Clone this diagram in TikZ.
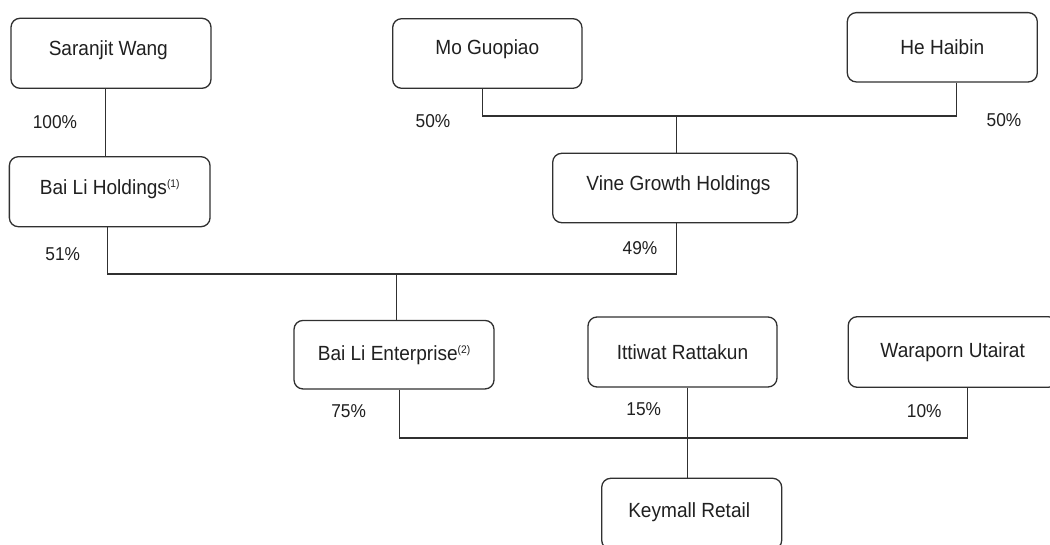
\documentclass[tikz,border=0pt]{standalone}
\usepackage{fontspec}
\setmainfont{Liberation Sans}[FakeStretch=0.93]
\definecolor{ink}{HTML}{202020}
\definecolor{edge}{HTML}{303030}
\begin{document}
\begin{tikzpicture}[x=1pt,y=-1pt,
  entity/.style={draw=edge, line width=1.3pt, rounded corners=9pt, fill=white,
    inner sep=0pt, text height=14.7pt, text depth=0pt, text=ink,
    font=\fontsize{20.5}{24}\selectfont},
  share/.style={inner sep=0pt, text height=13.3pt, text depth=0pt, text=ink,
    font=\fontsize{18.6}{22}\selectfont},
  link/.style={draw=edge, line width=1.3pt}]
\useasboundingbox (0,0) rectangle (1050,545);
\clip (0,0) rectangle (1050,545);
\fill[white] (0,0) rectangle (1050,545);

\newcommand{\fnref}[1]{\raisebox{7pt}{\fontsize{11}{12}\selectfont(#1)}}

% owners and entities
\node[entity, minimum width=200pt, minimum height=70pt] (saranjit) at (111,53.3)
  {\raisebox{5.3pt}{Saranjit Wang}\hspace*{5.4pt}};
\node[entity, minimum width=200.7pt, minimum height=70pt] (bailih) at (109.7,191.7)
  {\raisebox{5pt}{Bai Li Holdings\fnref{1}}};
\node[entity, minimum width=189.3pt, minimum height=69.6pt] (mo) at (487.3,53.5)
  {\raisebox{6.8pt}{Mo Guopiao}};
\node[entity, minimum width=190pt, minimum height=69.3pt] (he) at (942.3,47.3)
  {He Haibin};
\node[entity, minimum width=244.6pt, minimum height=69.4pt] (vine) at (675,188)
  {\hspace*{7pt}\raisebox{5.3pt}{Vine Growth Holdings}};
\node[entity, minimum width=200pt, minimum height=68.5pt] (ent) at (394,354.7)
  {\raisebox{1.4pt}{Bai Li Enterprise\fnref{2}}};
\node[entity, minimum width=189pt, minimum height=70pt] (itt) at (682.5,352)
  {Ittiwat Rattakun};
\node[entity, minimum width=209pt, minimum height=70.6pt] (war) at (952.7,352)
  {\raisebox{2pt}{Waraporn Utairat}};
\node[entity, minimum width=180pt, minimum height=71pt] (key) at (691.7,513.8)
  {\raisebox{3.8pt}{Keymall Retail}\hspace*{5pt}};

% junction points of the ownership buses
\coordinate (busA) at (676.7,116);
\coordinate (busB) at (396.4,274);
\coordinate (busC) at (687.7,438);

% connectors
\draw[link] ([xshift=-5.7pt]saranjit.south) -- ([xshift=-5.7pt]saranjit.south |- bailih.north);
\draw[link] ([xshift=-4.6pt]mo.south) |- (busA) -| ([xshift=14.4pt]he.south);
\draw[link] (busA) -- (busA |- vine.north);
\draw[link] ([xshift=-2.4pt]bailih.south) |- (busB) -| ([xshift=1.7pt]vine.south);
\draw[link] (busB) -- (busB |- ent.north);
\draw[link] ([xshift=5.4pt]ent.south) |- (busC) -| ([xshift=15pt]war.south);
\draw[link] ([xshift=5.2pt]itt.south) -- ([xshift=5.2pt]itt.south |- key.north);

% shareholdings
\node[share] (p100) at (55,122.3) {100\%};
\node[share] (p50a) at (433,120.7) {50\%};
\node[share] (p50b) at (1004,120) {50\%};
\node[share] (p51) at (62.7,254.3) {51\%};
\node[share] (p49) at (640,248.3) {49\%};
\node[share] (p75) at (348.6,410.7) {75\%};
\node[share] (p15) at (643.7,409.3) {15\%};
\node[share] (p10) at (924.3,411) {10\%};
\end{tikzpicture}
\end{document}
